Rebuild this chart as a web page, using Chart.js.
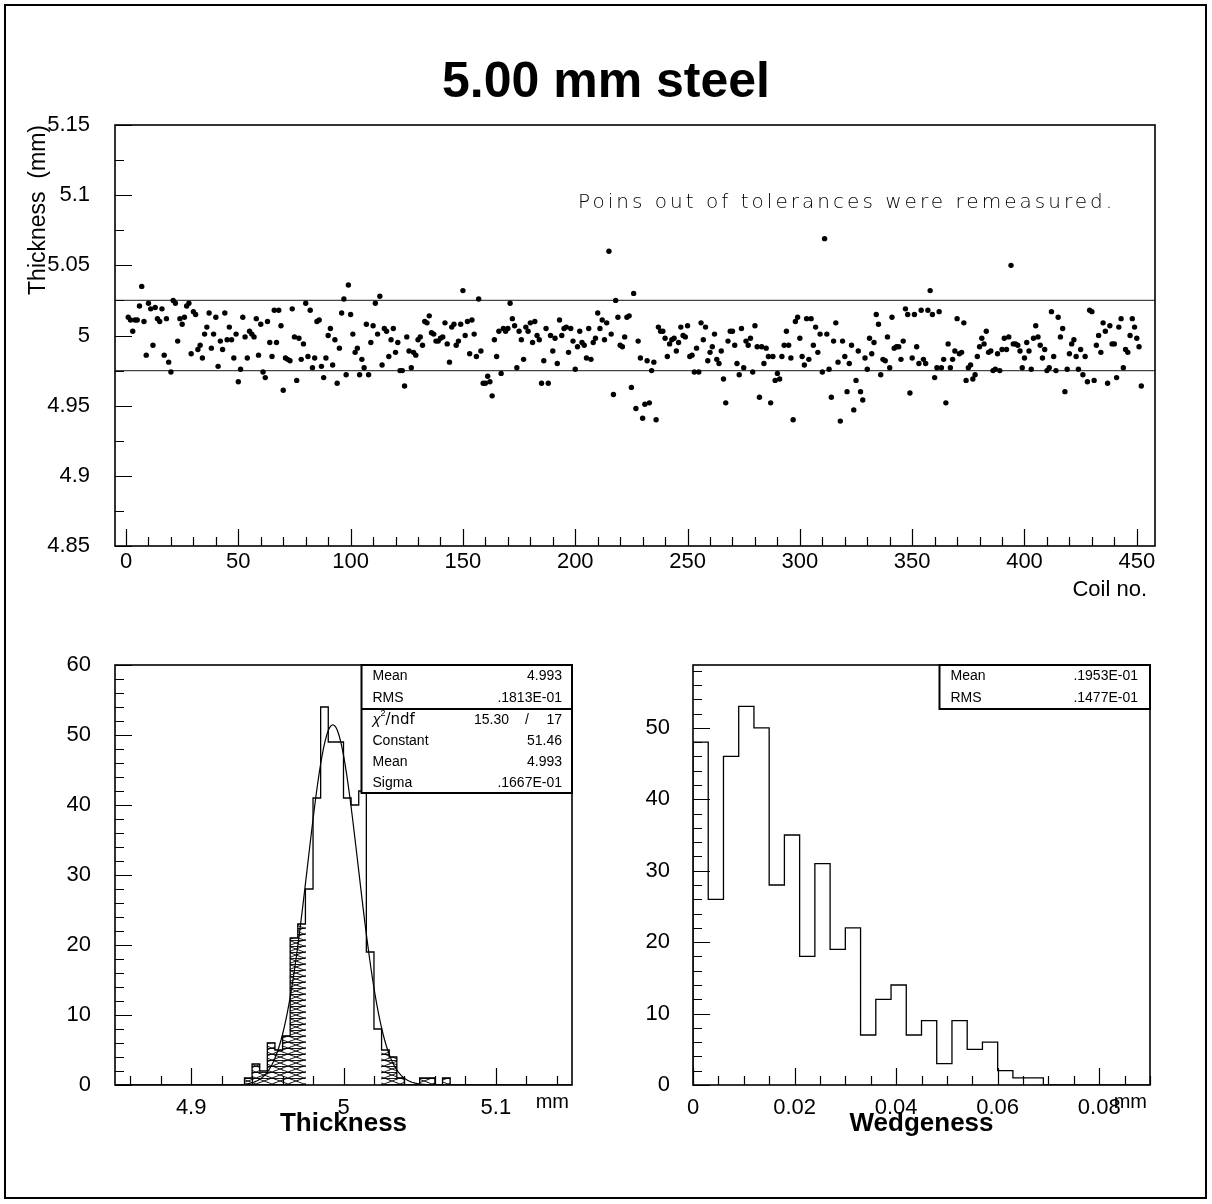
<!DOCTYPE html>
<html>
<head>
<meta charset="utf-8">
<script src="https://cdn.jsdelivr.net/npm/chart.js@4.4.1/dist/chart.umd.min.js"></script>
<style>
  body { margin: 0; background: #fff; }
  #page { position: relative; width: 1212px; height: 1204px; background: #fff; }
  #border { position: absolute; left: 4px; top: 4px; width: 1203px; height: 1195px; border: 2px solid #000; box-sizing: border-box; }
  #title { position: absolute; left: 0; top: 55px; width: 1212px; text-align: center; font: bold 50px "Liberation Sans", Arial, sans-serif; line-height: 50px; }
  canvas { position: absolute; }
</style>
</head>
<body>
<div id="page">
  <div id="border"></div>
  <div id="title">5.00 mm steel</div>
  <canvas id="coilChart" width="1212" height="520" style="left:0;top:100px"></canvas>
  <canvas id="thickChart" width="600" height="500" style="left:0;top:640px"></canvas>
  <canvas id="wedgeChart" width="634" height="500" style="left:578px;top:640px"></canvas>
</div>
<script>
// --- top plot: thickness per coil ---
const coilTicks = [0, 50, 100, 150, 200, 250, 300, 350, 400, 450];
const thicknessTicks = [4.85, 4.9, 4.95, 5, 5.05, 5.1, 5.15];
const tolerance = [4.975, 5.025];
// one value per coil, coil no. = index + 1
const thickness = [
  5.013, 5.011, 5.003, 5.011, 5.011, 5.021, 5.035, 5.010, 4.986, 5.023,
  5.019, 4.993, 5.020, 5.012, 5.010, 5.019, 4.986, 5.012, 4.981, 4.974,
  5.025, 5.023, 4.996, 5.012, 5.008, 5.013, 5.021, 5.023, 4.987, 5.017,
  5.015, 4.990, 4.993, 4.984, 5.001, 5.006, 5.016, 4.991, 5.001, 5.013,
  4.978, 4.996, 4.990, 5.016, 4.997, 5.006, 4.997, 4.984, 5.001, 4.967,
  4.976, 5.013, 4.999, 4.984, 5.003, 5.001, 4.999, 5.012, 4.986, 5.008,
  4.974, 4.970, 5.010, 4.995, 4.985, 5.018, 4.995, 5.018, 5.007, 4.961,
  4.984, 4.983, 4.982, 5.019, 4.999, 4.968, 4.998, 4.983, 4.994, 5.023,
  4.985, 5.018, 4.977, 4.984, 5.010, 5.011, 4.978, 4.970, 4.984, 5.000,
  5.005, 4.979, 4.997, 4.966, 4.991, 5.016, 5.026, 4.972, 5.036, 5.015,
  5.001, 4.988, 4.991, 4.972, 4.983, 4.977, 5.008, 4.972, 4.995, 5.007,
  5.023, 5.001, 5.028, 4.979, 5.005, 5.003, 4.985, 4.997, 5.005, 4.988,
  4.995, 4.975, 4.975, 4.964, 4.999, 4.989, 4.977, 4.988, 4.986, 4.997,
  4.999, 4.993, 5.010, 5.009, 5.014, 5.002, 5.001, 4.996, 4.996, 4.998,
  4.999, 5.009, 4.994, 4.981, 5.006, 5.008, 4.993, 4.996, 5.008, 5.032,
  5.000, 5.010, 4.987, 5.011, 5.001, 4.985, 5.026, 4.989, 4.966, 4.966,
  4.971, 4.967, 4.957, 4.997, 4.985, 5.003, 4.973, 5.005, 5.003, 5.005,
  5.023, 5.012, 5.007, 4.977, 5.003, 4.997, 4.983, 5.006, 5.003, 5.009,
  4.995, 5.010, 5.000, 4.997, 4.966, 4.982, 5.005, 4.966, 5.000, 4.989,
  4.998, 4.980, 5.011, 5.000, 5.005, 5.006, 4.988, 5.005, 4.996, 4.976,
  4.992, 5.003, 4.995, 4.993, 4.984, 5.005, 4.983, 4.995, 4.998, 5.016,
  5.005, 5.011, 4.997, 5.009, 5.060, 5.001, 4.958, 5.025, 5.013, 4.993,
  4.992, 4.999, 5.013, 5.014, 4.963, 5.030, 4.948, 4.996, 4.984, 4.941,
  4.951, 4.982, 4.952, 4.975, 4.981, 4.940, 5.006, 5.003, 5.003, 4.998,
  4.985, 4.994, 4.997, 4.998, 4.989, 4.995, 5.006, 5.000, 4.999, 5.007,
  4.985, 4.986, 4.974, 4.991, 4.974, 5.009, 4.997, 5.006, 4.982, 4.988,
  4.992, 5.001, 4.983, 4.980, 4.989, 4.969, 4.952, 4.996, 5.003, 5.003,
  4.993, 4.980, 4.972, 5.005, 4.977, 4.996, 4.993, 4.998, 4.974, 5.007,
  4.992, 4.956, 4.992, 4.980, 4.991, 4.985, 4.952, 4.985, 4.968, 4.973,
  4.969, 4.985, 4.993, 5.003, 4.993, 4.984, 4.940, 5.010, 5.013, 4.998,
  4.985, 4.979, 5.012, 4.983, 5.012, 4.993, 5.006, 4.988, 5.001, 4.974,
  5.069, 5.001, 4.976, 4.956, 4.996, 5.009, 4.981, 4.939, 4.996, 4.985,
  4.960, 4.980, 4.993, 4.947, 4.968, 4.989, 4.960, 4.954, 4.984, 4.976,
  4.998, 4.987, 4.995, 5.015, 5.008, 4.972, 4.983, 4.982, 4.999, 4.977,
  5.013, 4.991, 4.992, 4.992, 4.983, 4.996, 5.019, 5.015, 4.959, 4.984,
  5.015, 4.992, 4.980, 5.018, 4.983, 4.980, 5.018, 5.032, 5.015,
  4.970, 4.977, 5.017, 4.977, 4.983, 4.952, 4.994, 4.977, 4.983, 4.989,
  5.012, 4.987, 4.988, 5.009, 4.968, 4.977, 4.979, 4.969, 4.972, 4.985,
  4.992, 4.998, 4.994, 5.003, 4.988, 4.989, 4.975, 4.976, 4.987, 4.975,
  4.990, 4.998, 4.990, 4.999, 5.050, 4.994, 4.994, 4.993, 4.989, 4.977,
  4.984, 4.995, 4.989, 4.976, 4.998, 5.007, 4.999, 4.993, 4.984, 4.990,
  4.975, 4.977, 5.017, 4.985, 4.975, 5.013, 4.999, 5.005, 4.960, 4.976,
  4.987, 4.994, 4.997, 4.985, 4.976, 4.990, 4.972, 4.985, 4.967, 5.018,
  5.017, 4.968, 4.993, 5.000, 4.988, 5.009, 5.003, 4.966, 5.007, 4.994,
  4.994, 4.970, 5.006, 5.012, 4.977, 4.990, 4.988, 5.000, 5.012, 5.006,
  4.998, 4.992, 4.964
];

// --- bottom left: thickness histogram ---
const thickHistTicks = [4.9, 5, 5.1];
const thickCountTicks = [0, 10, 20, 30, 40, 50, 60];
const thickBinStart = 4.85;
const thickBinWidth = 0.005;
const thickCounts = [
  0, 0, 0, 0, 0, 0, 0, 0, 0, 0,
  0, 0, 0, 0, 0, 0, 0, 1, 3, 2,
  6, 5, 7, 21, 23, 28, 41, 54, 49, 49,
  41, 40, 42, 19, 8, 5, 4, 1, 0, 0,
  1, 1, 0, 1, 0, 0, 0, 0, 0, 0,
  0, 0, 0, 0, 0, 0, 0, 0, 0, 0
];
const fitConstant = 51.46;
const fitMean = 4.993;
const fitSigma = 0.01667;
const thickStats = [["Mean", "4.993"], ["RMS", ".1813E-01"]];
const fitChi2 = ["15.30", "17"];
const fitStats = [["Constant", "51.46"], ["Mean", "4.993"], ["Sigma", ".1667E-01"]];

// --- bottom right: wedgeness histogram ---
const wedgeTicks = [0, 0.02, 0.04, 0.06, 0.08];
const wedgeCountTicks = [0, 10, 20, 30, 40, 50];
const wedgeBinStart = 0;
const wedgeBinWidth = 0.003;
const wedgeCounts = [
  48, 26, 46, 53, 50, 28, 35, 18, 31, 19,
  22, 7, 12, 14, 7, 9, 3, 9, 5, 6,
  2, 1, 1, 0, 0, 0, 0, 0, 0, 0
];
const wedgeStats = [["Mean", ".1953E-01"], ["RMS", ".1477E-01"]];

const FONT = '"Liberation Sans", Arial, Helvetica, sans-serif';
const fmt = v => String(+Number(v).toFixed(3));

function axis(values, size, pad, fit) {
  return {
    type: 'linear',
    bounds: 'data',
    offset: false,
    afterBuildTicks: s => { s.ticks = values.map(v => ({ value: v })); },
    afterFit: s => { fit(s); s.paddingTop = 0; s.paddingBottom = 0; },
    ticks: { font: { family: FONT, size: size }, color: '#000', padding: pad, callback: fmt, autoSkip: false, maxRotation: 0 },
    grid: { display: false, drawTicks: false, offset: false },
    border: { display: false }
  };
}

// frame with inside ticks, like the original plots
function drawFrame(chart, xStep, xMajors, yStep, yMajors) {
  const { ctx, chartArea: a, scales: { x, y } } = chart;
  const isMajor = (v, majors, step) => majors.some(m => Math.abs(m - v) < step / 10);
  ctx.save();
  ctx.strokeStyle = '#000';
  ctx.lineWidth = 1.2;
  ctx.beginPath();
  for (let i = Math.ceil(x.min / xStep - 1e-6); i * xStep <= x.max + 1e-6; i++) {
    const v = i * xStep, px = Math.round(x.getPixelForValue(v)) + 0.5;
    const len = isMajor(v, xMajors, xStep) ? 17 : 9;
    ctx.moveTo(px, a.bottom); ctx.lineTo(px, a.bottom - len);
  }
  for (let i = Math.ceil(y.min / yStep - 1e-6); i * yStep <= y.max + 1e-6; i++) {
    const v = i * yStep, py = Math.round(y.getPixelForValue(v)) + 0.5;
    const len = isMajor(v, yMajors, yStep) ? 17 : 9;
    ctx.moveTo(a.left, py); ctx.lineTo(a.left + len, py);
  }
  ctx.stroke();
  ctx.lineWidth = 1.6;
  ctx.strokeRect(a.left, a.top, a.right - a.left, a.bottom - a.top);
  ctx.restore();
}

function statsBox(chart, rows, valueInset, fit) {
  const { ctx, chartArea: a } = chart;
  const left = a.right - 210.5, pitch = 21.2;
  const sep = a.top + 44;
  const bottom = fit ? sep + 84 : sep;
  ctx.save();
  ctx.fillStyle = '#fff';
  ctx.fillRect(left, a.top, a.right - left, bottom - a.top);
  ctx.strokeStyle = '#000';
  ctx.lineWidth = 2;
  ctx.strokeRect(left, a.top, a.right - left, bottom - a.top);
  ctx.fillStyle = '#000';
  ctx.font = `14px ${FONT}`;
  ctx.textBaseline = 'middle';
  const row = (label, value, y) => {
    ctx.textAlign = 'left'; ctx.fillText(label, left + 11, y);
    ctx.textAlign = 'right'; ctx.fillText(value, a.right - valueInset, y);
  };
  rows.forEach((r, i) => row(r[0], r[1], a.top + 11.5 + i * pitch));
  if (fit) {
    ctx.beginPath(); ctx.moveTo(left, sep); ctx.lineTo(a.right, sep); ctx.stroke();
    const y0 = sep + 10.7;
    ctx.textAlign = 'left';
    ctx.font = `italic 15px ${FONT}`;
    ctx.fillText('\u03c7', left + 11, y0);
    ctx.font = `9px ${FONT}`;
    ctx.fillText('2', left + 19, y0 - 6);
    ctx.font = `15px "DejaVu Sans", sans-serif`;
    ctx.fillText('/ndf', left + 24, y0);
    ctx.font = `14px ${FONT}`;
    ctx.textAlign = 'right';
    ctx.fillText(fitChi2[0], a.right - 63, y0);
    ctx.textAlign = 'center';
    ctx.fillText('/', a.right - 45, y0);
    ctx.textAlign = 'right';
    ctx.fillText(fitChi2[1], a.right - valueInset, y0);
    fit.forEach((r, i) => row(r[0], r[1], y0 + (i + 1) * pitch));
  }
  ctx.restore();
}

// histogram outline points (bin edges), drawn with stepped lines
function outline(start, width, counts) {
  const pts = [{ x: start, y: 0 }];
  counts.forEach((c, k) => pts.push({ x: start + (k + 1) * width, y: c }));
  pts.push({ x: start + counts.length * width, y: 0 });
  return pts;
}

function hatchPattern() {
  const c = document.createElement('canvas');
  c.width = 16; c.height = 6;
  const g = c.getContext('2d');
  g.strokeStyle = '#000';
  g.lineWidth = 0.9;
  g.beginPath();
  g.moveTo(0, 0); g.lineTo(16, 6);
  g.moveTo(0, 6); g.lineTo(16, 0);
  g.moveTo(0, 0.5); g.lineTo(16, 0.5);
  g.stroke();
  return g.createPattern(c, 'repeat');
}

const common = {
  responsive: false,
  animation: false,
  events: [],
  plugins: { legend: { display: false }, tooltip: { enabled: false } }
};

// ---------- top chart ----------
new Chart(document.getElementById('coilChart'), {
  type: 'scatter',
  data: {
    datasets: [{
      data: thickness.map((t, i) => ({ x: i + 1, y: t })),
      pointRadius: 2.7,
      pointBackgroundColor: '#000',
      pointBorderWidth: 0,
      showLine: false
    }]
  },
  options: {
    ...common,
    layout: { padding: { top: 25, right: 57, left: 0, bottom: 0 } },
    scales: {
      x: { ...axis(coilTicks, 22, 3, s => { s.height = 74; }), min: -4.9, max: 458.1 },
      y: { ...axis(thicknessTicks, 22, 25, s => { s.width = 115; }), min: 4.85, max: 5.15 }
    }
  },
  plugins: [{
    id: 'coilDecor',
    beforeDatasetsDraw(chart) {
      const { ctx, chartArea: a, scales: { y } } = chart;
      ctx.save();
      ctx.strokeStyle = '#444';
      ctx.lineWidth = 1.2;
      tolerance.forEach(t => {
        const p = y.getPixelForValue(t);
        ctx.beginPath(); ctx.moveTo(a.left, p); ctx.lineTo(a.right, p); ctx.stroke();
      });
      ctx.restore();
    },
    afterDraw(chart) {
      drawFrame(chart, 10, coilTicks, 0.025, thicknessTicks);
      const { ctx, chartArea: a } = chart;
      ctx.save();
      ctx.fillStyle = '#000';
      ctx.font = `22px ${FONT}`;
      ctx.textAlign = 'right';
      ctx.textBaseline = 'alphabetic';
      ctx.fillText('Coil no.', a.right - 8, a.bottom + 50);

      // note text, thin and spaced out
      const note = 'Poins out of tolerances were remeasured.';
      ctx.font = `200 20px "DejaVu Sans", sans-serif`;
      ctx.textAlign = 'left';
      ctx.textBaseline = 'middle';
      const w0 = ctx.measureText(note).width;
      ctx.letterSpacing = ((534 - w0) / (note.length - 1)).toFixed(2) + 'px';
      ctx.fillText(note, a.left + 463, a.top + 78);
      ctx.letterSpacing = '0px';

      ctx.font = `23px ${FONT}`;
      ctx.translate(45, a.top);
      ctx.rotate(-Math.PI / 2);
      ctx.textAlign = 'right';
      ctx.textBaseline = 'alphabetic';
      ctx.fillText('Thickness  (mm)', 0, 0);
      ctx.restore();
    }
  }]
});

// ---------- bottom left: thickness ----------
const hatch = hatchPattern();
const thickHatched = thickCounts
  .map((c, k) => ({ x: thickBinStart + (k + 0.5) * thickBinWidth, y: c }))
  .filter(p => p.x < tolerance[0] || p.x > tolerance[1]);
const fitCurve = [];
for (let i = 0; i <= 135; i++) {
  const x = 4.935 + i * 0.001;
  fitCurve.push({ x: x, y: fitConstant * Math.exp(-0.5 * Math.pow((x - fitMean) / fitSigma, 2)) });
}

new Chart(document.getElementById('thickChart'), {
  type: 'line',
  data: {
    datasets: [
      { type: 'bar', data: thickHatched, backgroundColor: hatch, borderWidth: 0, barPercentage: 1, categoryPercentage: 1, grouped: false, order: 3 },
      { type: 'line', data: outline(thickBinStart, thickBinWidth, thickCounts), stepped: 'after', borderColor: '#000', borderWidth: 1.3, pointRadius: 0, fill: false, order: 2 },
      { type: 'line', data: fitCurve, borderColor: '#000', borderWidth: 1.2, pointRadius: 0, fill: false, tension: 0, order: 1 }
    ]
  },
  options: {
    ...common,
    layout: { padding: { top: 25, right: 28, left: 0, bottom: 0 } },
    scales: {
      x: { ...axis(thickHistTicks, 22, 10, s => { s.height = 55; }), min: 4.85, max: 5.15 },
      y: { ...axis(thickCountTicks, 22, 24, s => { s.width = 115; }), min: 0, max: 60 }
    }
  },
  plugins: [{
    id: 'thickDecor',
    afterDatasetsDraw(chart) {
      drawFrame(chart, 0.02, thickHistTicks, 2, thickCountTicks);
      statsBox(chart, thickStats, 10, fitStats);
      const { ctx, chartArea: a } = chart;
      ctx.save();
      ctx.fillStyle = '#000';
      ctx.textBaseline = 'alphabetic';
      ctx.font = `20px ${FONT}`;
      ctx.textAlign = 'right';
      ctx.fillText('mm', a.right - 3, a.bottom + 23);
      ctx.font = `bold 26px ${FONT}`;
      ctx.textAlign = 'center';
      ctx.fillText('Thickness', (a.left + a.right) / 2, a.bottom + 46);
      ctx.restore();
    }
  }]
});

// ---------- bottom right: wedgeness ----------
new Chart(document.getElementById('wedgeChart'), {
  type: 'line',
  data: {
    datasets: [
      { data: outline(wedgeBinStart, wedgeBinWidth, wedgeCounts), stepped: 'after', borderColor: '#000', borderWidth: 1.3, pointRadius: 0, fill: false }
    ]
  },
  options: {
    ...common,
    layout: { padding: { top: 25, right: 62, left: 0, bottom: 0 } },
    scales: {
      x: { ...axis(wedgeTicks, 22, 10, s => { s.height = 55; }), min: 0, max: 0.09 },
      y: { ...axis(wedgeCountTicks, 22, 23, s => { s.width = 115; }), min: 0, max: 58.8 }
    }
  },
  plugins: [{
    id: 'wedgeDecor',
    afterDatasetsDraw(chart) {
      drawFrame(chart, 0.005, wedgeTicks, 2, wedgeCountTicks);
      statsBox(chart, wedgeStats, 12, null);
      const { ctx, chartArea: a } = chart;
      ctx.save();
      ctx.fillStyle = '#000';
      ctx.textBaseline = 'alphabetic';
      ctx.font = `20px ${FONT}`;
      ctx.textAlign = 'right';
      ctx.fillText('mm', a.right - 3, a.bottom + 23);
      ctx.font = `bold 26px ${FONT}`;
      ctx.textAlign = 'center';
      ctx.fillText('Wedgeness', (a.left + a.right) / 2, a.bottom + 46);
      ctx.restore();
    }
  }]
});
</script>
</body>
</html>
